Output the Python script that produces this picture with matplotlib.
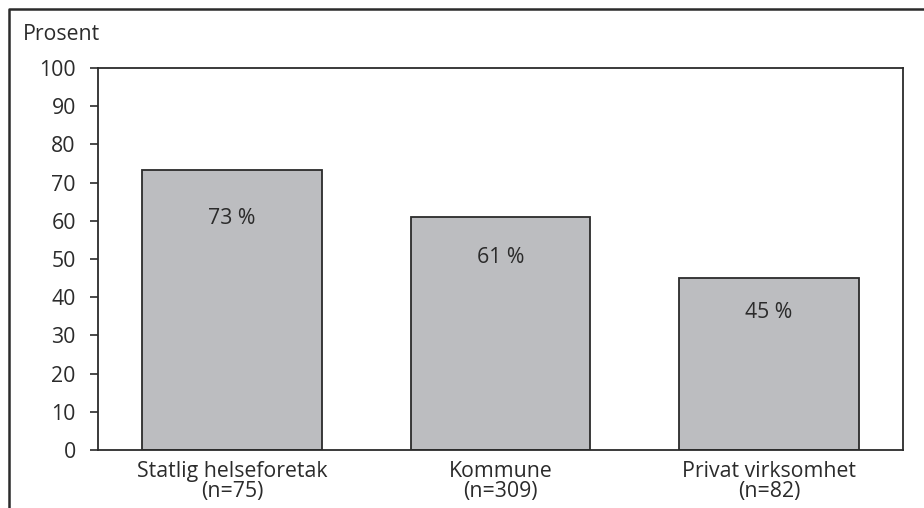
import matplotlib.pyplot as plt
from matplotlib.lines import Line2D

categories = ["Statlig helseforetak\n(n=75)", "Kommune\n(n=309)", "Privat virksomhet\n(n=82)"]
values = [73.3, 61, 45]
labels = ["73 %", "61 %", "45 %"]
label_y = [60.7, 50.5, 35.9]
yticks = list(range(0, 101, 10))

plt.rcParams["font.family"] = ["Open Sans", "DejaVu Sans"]
dark = "#2b2b2b"
fs = 15.3

fig = plt.figure(figsize=(9.24, 5.08), dpi=100)
ax = fig.add_axes([98 / 924, 1 - 450 / 508, (903 - 98) / 924, (450 - 68) / 508])

x = range(len(categories))
ax.bar(x, values, width=0.67, color="#bcbdc0", edgecolor=dark, linewidth=1.3, zorder=2)
for i, (t, y) in enumerate(zip(labels, label_y)):
    ax.text(i, y, t, ha="center", va="center", fontsize=fs, color=dark)

ax.set_xlim(-0.5, 2.5)
ax.set_ylim(0, 100)
ax.set_yticks(yticks)
ax.set_xticks(list(x))
ax.set_xticklabels(categories, fontsize=fs, color=dark, linespacing=0.92)
ax.tick_params(axis="x", length=0, pad=8)
ax.tick_params(axis="y", length=6, width=1.2, color=dark, pad=10, labelsize=fs, labelcolor=dark)
for s in ax.spines.values():
    s.set_color(dark)
    s.set_linewidth(1.3)

fig.text(23 / 924, 1 - 35 / 508, "Prosent", ha="left", va="center", fontsize=fs, color=dark)

# outer frame (left and top only)
fig.add_artist(Line2D([9 / 924, 9 / 924, 1.0], [0, 1 - 9 / 508, 1 - 9 / 508],
                      transform=fig.transFigure, color=dark, linewidth=1.8))

fig.savefig("out.png", dpi=100)
